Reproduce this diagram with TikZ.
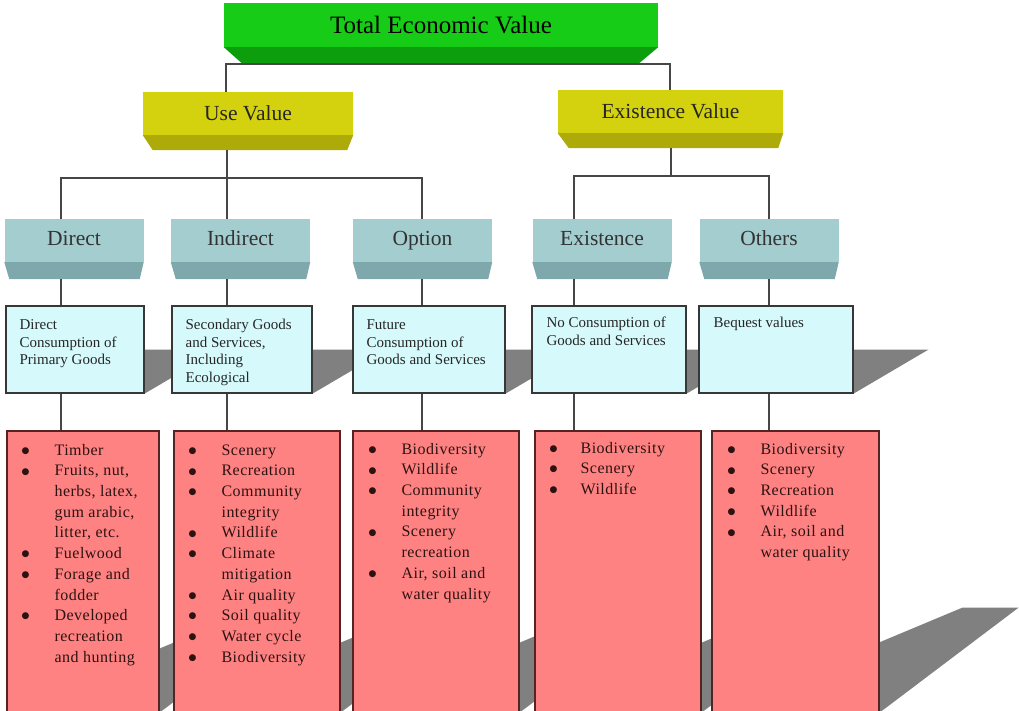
\documentclass[tikz,border=0pt]{standalone}
\usepackage{fontspec}
\setmainfont{Liberation Serif}
\newfontfamily\listfont{Liberation Serif}[LetterSpace=3.0]
\newfontfamily\symfont{DejaVu Sans}
\usetikzlibrary{backgrounds}
\definecolor{tevface}{RGB}{22,204,22}
\definecolor{tevbevel}{RGB}{12,158,12}
\definecolor{yelface}{RGB}{212,210,14}
\definecolor{yelbevel}{RGB}{174,170,10}
\definecolor{tealface}{RGB}{164,205,208}
\definecolor{tealbevel}{RGB}{126,168,171}
\definecolor{descfill}{RGB}{214,250,252}
\definecolor{listfill}{RGB}{255,130,130}
\definecolor{boxline}{RGB}{55,55,55}
\definecolor{listline}{RGB}{85,35,35}
\definecolor{listink}{RGB}{45,18,18}
\definecolor{linec}{RGB}{70,70,70}
\definecolor{shadowc}{RGB}{128,128,128}
\newcommand{\blt}{\raisebox{1.8pt}{\symfont\fontsize{9}{10}\selectfont ●}}

\begin{document}
\begin{tikzpicture}[x=1pt,y=-1pt]
\useasboundingbox (0,0) rectangle (1019,710);
% define box types
\tikzstyle{tevbox}=[rectangle, fill=tevface, inner sep=0pt,
    minimum width=434pt, minimum height=44pt, font=\fontsize{25}{30}\selectfont]
\tikzstyle{usebox}=[rectangle, fill=yelface, inner sep=0pt, text=black!85,
    minimum height=43pt, font=\fontsize{21.5}{26}\selectfont]
\tikzstyle{kindbox}=[rectangle, fill=tealface, inner sep=0pt, text=black!80,
    text height=15pt, text depth=4.5pt,
    minimum width=139pt, minimum height=43pt, font=\fontsize{21.5}{26}\selectfont]
\tikzstyle{descbox}=[draw=boxline, line width=1.2pt, fill=descfill, minimum height=87pt]
\tikzstyle{listbox}=[draw=listline, line width=1.2pt, fill=listfill, minimum height=281pt]
\tikzstyle{desctext}=[anchor=north west, inner sep=0pt, text=black!85,
    font=\fontsize{15}{17.5}\selectfont]
\tikzstyle{listtext}=[anchor=north west, inner sep=0pt, text=listink,
    font=\listfont\fontsize{16}{20.7}\selectfont]
\tikzstyle{conn}=[draw=linec, line width=1.6pt]
\tikzstyle{castshadow}=[fill=shadowc]
% top
\node[tevbox] (tev) at (441,25) {Total Economic Value};
\node[usebox, minimum width=210pt] (uv) at (248,113.5) {Use Value};
\node[usebox, minimum width=225pt] (ev) at (670.5,111.5) {Existence Value};
% kinds of value
\node[kindbox] (hdir) at (74,240.5) {Direct};
\node[kindbox] (hind) at (240.5,240.5) {Indirect};
\node[kindbox] (hopt) at (422.5,240.5) {Option};
\node[kindbox] (hex) at (602,240.5) {Existence};
\node[kindbox] (hoth) at (769,240.5) {Others};
% bevels
\fill[tevbevel] (tev.south west) -- (tev.south east) -- ([shift={(-19,16)}]tev.south east) -- ([shift={(18,16)}]tev.south west) -- cycle;
\fill[yelbevel] (uv.south west) -- (uv.south east) -- ([shift={(-6,15)}]uv.south east) -- ([shift={(10,15)}]uv.south west) -- cycle;
\fill[yelbevel] (ev.south west) -- (ev.south east) -- ([shift={(-5,15)}]ev.south east) -- ([shift={(11,15)}]ev.south west) -- cycle;
\fill[tealbevel] (hdir.south west) -- (hdir.south east) -- ([shift={(-4,17)}]hdir.south east) -- ([shift={(5,17)}]hdir.south west) -- cycle;
\fill[tealbevel] (hind.south west) -- (hind.south east) -- ([shift={(-4,17)}]hind.south east) -- ([shift={(5,17)}]hind.south west) -- cycle;
\fill[tealbevel] (hopt.south west) -- (hopt.south east) -- ([shift={(-4,17)}]hopt.south east) -- ([shift={(5,17)}]hopt.south west) -- cycle;
\fill[tealbevel] (hex.south west) -- (hex.south east) -- ([shift={(-4,17)}]hex.south east) -- ([shift={(5,17)}]hex.south west) -- cycle;
\fill[tealbevel] (hoth.south west) -- (hoth.south east) -- ([shift={(-4,17)}]hoth.south east) -- ([shift={(5,17)}]hoth.south west) -- cycle;
% descriptions
\node[descbox, minimum width=138pt] (cdir) at (75,349.5) {};
\node[descbox, minimum width=140pt] (cind) at (242,349.5) {};
\node[descbox, minimum width=152pt] (copt) at (429,349.5) {};
\node[descbox, minimum width=154pt] (cex) at (609,349.5) {};
\node[descbox, minimum width=154pt] (coth) at (776,349.5) {};
\node[desctext] (tdir) at ([shift={(14,12)}]cdir.north west)
    {\begin{tabular}{@{}l@{}}Direct\\Consumption of\\Primary Goods\end{tabular}};
\node[desctext] (tind) at ([shift={(14,12)}]cind.north west)
    {\begin{tabular}{@{}l@{}}Secondary Goods\\and Services,\\Including\\Ecological\end{tabular}};
\node[desctext] (topt) at ([shift={(14,12)}]copt.north west)
    {\begin{tabular}{@{}l@{}}Future\\Consumption of\\Goods and Services\end{tabular}};
\node[desctext] (tex) at ([shift={(15,10)}]cex.north west)
    {\begin{tabular}{@{}l@{}}No Consumption of\\Goods and Services\end{tabular}};
\node[desctext] (toth) at ([shift={(15,10)}]coth.north west)
    {\begin{tabular}{@{}l@{}}Bequest values\end{tabular}};
% lists
\node[listbox, minimum width=152pt] (pdir) at (83,571.5) {};
\node[listbox, minimum width=166pt] (pind) at (257,571.5) {};
\node[listbox, minimum width=166pt] (popt) at (436,571.5) {};
\node[listbox, minimum width=166pt] (pex) at (618,571.5) {};
\node[listbox, minimum width=167pt] (poth) at (795.5,571.5) {};
\node[listtext] (ldir) at ([shift={(15,10)}]pdir.north west)
    {\begin{tabular}{@{}p{33pt}@{}l@{}}
    \blt & Timber\\
    \blt & Fruits, nut,\\
     & herbs, latex,\\
     & gum arabic,\\
     & litter, etc.\\
    \blt & Fuelwood\\
    \blt & Forage and\\
     & fodder\\
    \blt & Developed\\
     & recreation\\
     & and hunting
    \end{tabular}};
\node[listtext] (lind) at ([shift={(15,10)}]pind.north west)
    {\begin{tabular}{@{}p{33pt}@{}l@{}}
    \blt & Scenery\\
    \blt & Recreation\\
    \blt & Community\\
     & integrity\\
    \blt & Wildlife\\
    \blt & Climate\\
     & mitigation\\
    \blt & Air quality\\
    \blt & Soil quality\\
    \blt & Water cycle\\
    \blt & Biodiversity
    \end{tabular}};
\node[listtext] (lopt) at ([shift={(16,9)}]popt.north west)
    {\begin{tabular}{@{}p{33pt}@{}l@{}}
    \blt & Biodiversity\\
    \blt & Wildlife\\
    \blt & Community\\
     & integrity\\
    \blt & Scenery\\
     & recreation\\
    \blt & Air, soil and\\
     & water quality
    \end{tabular}};
\node[listtext] (lex) at ([shift={(15,8)}]pex.north west)
    {\begin{tabular}{@{}p{31pt}@{}l@{}}
    \blt & Biodiversity\\
    \blt & Scenery\\
    \blt & Wildlife
    \end{tabular}};
\node[listtext] (loth) at ([shift={(16,9)}]poth.north west)
    {\begin{tabular}{@{}p{33pt}@{}l@{}}
    \blt & Biodiversity\\
    \blt & Scenery\\
    \blt & Recreation\\
    \blt & Wildlife\\
    \blt & Air, soil and\\
     & water quality
    \end{tabular}};
% shadows
\begin{pgfonlayer}{background}
\fill[castshadow] (cdir.south west) -- ([xshift=75pt]cdir.west) -- ([xshift=75pt]cdir.east) -- (cdir.south east) -- cycle;
\fill[castshadow] (cind.south west) -- ([xshift=75pt]cind.west) -- ([xshift=75pt]cind.east) -- (cind.south east) -- cycle;
\fill[castshadow] (copt.south west) -- ([xshift=75pt]copt.west) -- ([xshift=75pt]copt.east) -- (copt.south east) -- cycle;
\fill[castshadow] (cex.south west) -- ([xshift=75pt]cex.west) -- ([xshift=75pt]cex.east) -- (cex.south east) -- cycle;
\fill[castshadow] (coth.south west) -- ([xshift=75pt]coth.west) -- ([xshift=75pt]coth.east) -- (coth.south east) -- cycle;
\fill[castshadow] (pdir.south west) -- ([shift={(251,-105)}]pdir.south west) -- ([shift={(139,-105)}]pdir.south east) -- (pdir.south east) -- cycle;
\fill[castshadow] (pind.south west) -- ([shift={(251,-105)}]pind.south west) -- ([shift={(139,-105)}]pind.south east) -- (pind.south east) -- cycle;
\fill[castshadow] (popt.south west) -- ([shift={(251,-105)}]popt.south west) -- ([shift={(139,-105)}]popt.south east) -- (popt.south east) -- cycle;
\fill[castshadow] (pex.south west) -- ([shift={(251,-105)}]pex.south west) -- ([shift={(139,-105)}]pex.south east) -- (pex.south east) -- cycle;
\fill[castshadow] (poth.south west) -- ([shift={(251,-105)}]poth.south west) -- ([shift={(139,-105)}]poth.south east) -- (poth.south east) -- cycle;
\end{pgfonlayer}
% bus points
\coordinate (tevl) at (226,64);
\coordinate (tevr) at (670,64);
\coordinate (kuv) at (227,178);
\coordinate (kev) at (671,176);
\coordinate (kdir) at (61,178);
\coordinate (kind) at (227,178);
\coordinate (kopt) at (422,178);
\coordinate (kex) at (574,176);
\coordinate (koth) at (769,176);
% first layer
\draw[conn] (uv.north -| tevl) -- (tevl) -- (tevr) -- (ev.north -| tevr);
% second layer
\draw[conn] ([yshift=-15pt]uv.south -| kuv) -- (kuv);
\draw[conn] (hdir.north -| kdir) -- (kdir) -- (kopt) -- (hopt.north -| kopt);
\draw[conn] (kind) -- (hind.north -| kind);
\draw[conn] ([yshift=-15pt]ev.south -| kev) -- (kev);
\draw[conn] (hex.north -| kex) -- (kex) -- (koth) -- (hoth.north -| koth);
% third layer
\draw[conn] ([yshift=-17pt]hdir.south -| kdir) -- (cdir.north -| kdir);
\draw[conn] ([yshift=-17pt]hind.south -| kind) -- (cind.north -| kind);
\draw[conn] ([yshift=-17pt]hopt.south -| kopt) -- (copt.north -| kopt);
\draw[conn] ([yshift=-17pt]hex.south -| kex) -- (cex.north -| kex);
\draw[conn] ([yshift=-17pt]hoth.south -| koth) -- (coth.north -| koth);
% fourth layer
\draw[conn] (cdir.south -| kdir) -- (pdir.north -| kdir);
\draw[conn] (cind.south -| kind) -- (pind.north -| kind);
\draw[conn] (copt.south -| kopt) -- (popt.north -| kopt);
\draw[conn] (cex.south -| kex) -- (pex.north -| kex);
\draw[conn] (coth.south -| koth) -- (poth.north -| koth);
\end{tikzpicture}
\end{document}
